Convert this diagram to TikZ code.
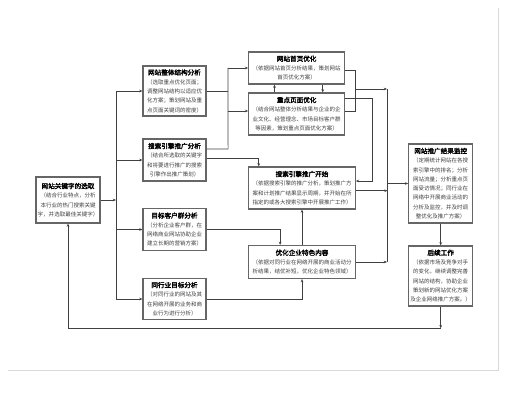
\documentclass[tikz,border=0pt]{standalone}
\usepackage{fontspec}
\setmainfont{Noto Sans CJK SC}
\newfontfamily\cjkbold[FakeBold=2.5]{Noto Sans CJK SC}
\usetikzlibrary{arrows.meta,calc}
\begin{document}
\begin{tikzpicture}[x=1pt,y=-1pt,
  box/.style={draw=black!60, line width=1.1pt, fill=white, inner sep=1pt,
    align=center, font=\fontsize{5.5}{9.3}\selectfont, text=black!75},
  ln/.style={draw=black!75, line width=0.6pt},
  arr/.style={ln, -{Stealth[length=3.2pt,width=2.6pt]}}]
\useasboundingbox (0,0) rectangle (517,401);
\draw[black!15, line width=0.8pt] (498,8) -- (498,370) -- (8,370);

\newcommand{\ttlx}[1]{{\cjkbold\fontsize{6.6}{10}\selectfont\color{black}#1}}

\node[box, minimum width=64pt, minimum height=46pt] (A) at (68,200)
  {\ttlx{网站关键字的选取}\\（结合行业特点，分析\\本行业的热门搜索关键\\字，并选取最佳关键字）};
\node[box, minimum width=63pt, minimum height=50pt] (B1) at (174.5,91)
  {\ttlx{网站整体结构分析}\\（选取重点优化页面；\\调整网站结构以适应优\\化方案；策划网站及重\\点页面关键词的密度）};
\node[box, minimum width=63pt, minimum height=42pt] (B2) at (174.5,160)
  {\ttlx{搜索引擎推广分析}\\（结合所选取的关键字\\和将要进行推广的搜索\\引擎作出推广策划）};
\node[box, minimum width=63pt, minimum height=42pt] (B3) at (174.5,229.5)
  {\ttlx{目标客户群分析}\\（分析企业客户群，在\\网络商业网站协助企业\\建立长期的营销方案）};
\node[box, minimum width=63pt, minimum height=41pt] (B4) at (174.5,299)
  {\ttlx{同行业目标分析}\\（对同行业的网站及其\\在网络开展的业务和商\\业行为进行分析）};
\node[box, minimum width=96pt, minimum height=32pt] (C1) at (296.7,68)
  {\ttlx{网站首页优化}\\（依据网站首页分析结果，策划网站\\首页优化方案）};
\node[box, minimum width=96pt, minimum height=42pt] (C2) at (296.7,114)
  {\ttlx{重点页面优化}\\（结合网站整体分析结果与企业的企\\业文化、经营理念、市场目标客户群\\等因素，策划重点页面优化方案）};
\node[box, minimum width=106.6pt, minimum height=42pt] (C3) at (302,188)
  {\ttlx{搜索引擎推广开始}\\（依据搜索引擎的推广分析，策划推广方\\案和计划推广结果显示周期，并开始在所\\指定的或各大搜索引擎中开展推广工作）};
\node[box, minimum width=106.6pt, minimum height=33pt] (C4) at (302,262)
  {\ttlx{优化企业特色内容}\\（依据对同行业在网络开展的商业活动分\\析结果，结优补短，优化企业特色领域）};
\node[box, minimum width=64pt, minimum height=79pt] (D1) at (440.7,183.5)
  {\ttlx{网站推广结果监控}\\（定期统计网站在各搜\\索引擎中的排名；分析\\网站流量；分析重点页\\面受访情况；同行业在\\网络中开展商业活动的\\分析及监控，并及时调\\整优化及推广方案）};
\node[box, minimum width=64pt, minimum height=60pt] (D2) at (440.7,276)
  {\ttlx{后续工作}\\（依据市场及竞争对手\\的变化，继续调整完善\\网站的结构，协助企业\\策划新的网站优化方案\\及企业网络推广方案。）};

% bus from A
\coordinate (bus) at (116,200);
\draw[arr] (A.east) -- (bus);
\draw[ln] (bus |- B1.west) -- (bus |- B4.west);
\foreach \n in {B1,B2,B3,B4} \draw[arr] (bus |- \n.west) -- (\n.west);

% vertical at x=228
\coordinate (v1) at (228,0);
\draw[ln] (B1.east) -- (v1 |- B1.east);
\draw[ln] ($(B2.east)+(0,-11)$) -- ++(21.5,0) -- (v1 |- C1.west);
\draw[arr] (v1 |- C1.west) -- (C1.west);
\draw[arr] ($(v1 |- C2.west)+(0,-3)$) -- ($(C2.west)+(0,-3)$);

% B2 -> C3
\draw[arr] ($(B2.east)+(0,-2)$) -| ($(C3.north west)+(10.6,0)$);

% C1 <-> C2
\draw[arr] ($(C2.north west)+(26.3,0)$) -- ($(C1.south west)+(26.3,0)$);
\draw[arr] ($(C1.south west)+(74.6,0)$) -- ($(C2.north west)+(74.6,0)$);

% C1, C2 -> right bus
\coordinate (m1) at (355.3,89);
\coordinate (v2) at (387,0);
\draw[ln] ($(C1.east)+(0,2)$) -| (m1);
\draw[ln] ($(C2.east)+(0,-3)$) -| (m1);
\draw[arr] (m1) -- (v2 |- m1);
\draw[ln] (v2 |- m1) -- (v2 |- C4.east);

% C2 -> C3 right side
\draw[arr] ($(C2.east)+(0,-15.7)$) -- ++(26.6,0) |- ($(C3.east)+(0,-7)$);

% C3, C4 -> right bus
\draw[arr] ($(C3.east)+(0,2.7)$) -- ++(31.7,0);
\draw[arr] (C4.east) -- (v2 |- C4.east);

% right bus -> D1
\draw[arr] (v2 |- D1.west) -- (D1.west);

% B3, B4 -> C4 ; C4 -> C3
\draw[arr] (B3.east) -| ($(C4.north west)+(32,0)$);
\draw[arr] (B4.east) -| (C4.south);
\draw[arr] (C4.north) -- (C3.south);

% D1 -> D2 ; feedback
\draw[arr] (D1.south) -- (D2.north);
\coordinate (fb) at (440.7,328.3);
\draw[arr] (D2.south) -- (fb);
\draw[arr] (fb) -| (A.south);
\end{tikzpicture}
\end{document}
